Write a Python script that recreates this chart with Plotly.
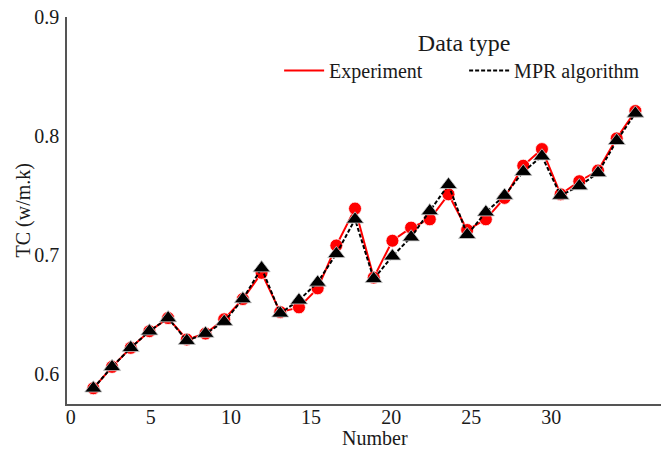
import plotly.graph_objects as go

numbers = list(range(1, 31))
experiment = [0.588, 0.606, 0.622, 0.636, 0.647, 0.629, 0.634, 0.646, 0.663, 0.685,
              0.652, 0.656, 0.672, 0.708, 0.739, 0.681, 0.712, 0.723, 0.730, 0.751,
              0.721, 0.730, 0.748, 0.775, 0.789, 0.751, 0.762, 0.771, 0.798, 0.821]
mpr = [0.588, 0.606, 0.622, 0.636, 0.647, 0.628, 0.634, 0.644, 0.663, 0.689,
       0.651, 0.662, 0.677, 0.701, 0.730, 0.680, 0.699, 0.715, 0.737, 0.759,
       0.717, 0.736, 0.750, 0.770, 0.783, 0.750, 0.758, 0.769, 0.796, 0.819]
x_tick_labels = [0, 5, 10, 15, 20, 25, 30]
y_ticks = [0.6, 0.7, 0.8, 0.9]

# tick labels in the original are placed on a slightly different scale than the points
x_tickvals = [-0.21 + v * 30 / 35 for v in x_tick_labels]
x_range = [-0.41, 31.37]

FONT = "Liberation Serif, Times New Roman, serif"

fig = go.Figure()
fig.add_trace(go.Scatter(x=numbers, y=experiment, mode="lines", name="Experiment",
                         line=dict(color="#ff0000", width=2)))
fig.add_trace(go.Scatter(x=numbers, y=experiment, mode="markers", showlegend=False,
                         marker=dict(symbol="circle", size=13, color="#ff0000",
                                     line=dict(color="white", width=0.8))))
fig.add_trace(go.Scatter(x=numbers, y=mpr, mode="lines", name="MPR algorithm",
                         line=dict(color="black", width=2, dash="4px,2px")))
fig.add_trace(go.Scatter(x=numbers, y=mpr, mode="markers", showlegend=False,
                         marker=dict(symbol="triangle-up", size=15, color="black",
                                     line=dict(color="#cccccc", width=0.8))))
# empty helper trace so the label-only x axis is drawn
fig.add_trace(go.Scatter(x=[None], y=[None], xaxis="x2", yaxis="y", mode="lines",
                         showlegend=False, hoverinfo="skip"))

fig.update_layout(
    width=661, height=450,
    margin=dict(l=67, r=0, t=17, b=46),
    paper_bgcolor="white", plot_bgcolor="white",
    font=dict(family=FONT, size=20, color="#1a1a1a"),
    xaxis=dict(range=x_range, showticklabels=False,
               showgrid=False, zeroline=False, showline=True,
               linecolor="#555555", linewidth=1.5, ticks=""),
    xaxis2=dict(range=x_range, overlaying="x", anchor="free", position=0.003,
                side="bottom", tickvals=x_tickvals,
                ticktext=[str(v) for v in x_tick_labels],
                showgrid=False, zeroline=False, showline=False, ticks=""),
    yaxis=dict(range=[0.5748, 0.9], tickvals=y_ticks,
               ticktext=[f"{v:.1f}" for v in y_ticks],
               showgrid=False, zeroline=False, showline=True,
               linecolor="#555555", linewidth=1.5,
               ticks="outside", ticklen=2, tickcolor="rgba(0,0,0,0)"),
    legend=dict(orientation="h", x=0.98, xanchor="right", y=0.993, yanchor="top",
                title=dict(text="Data type", side="top center"),
                bgcolor="rgba(0,0,0,0)", itemwidth=40, entrywidth=130,
                font=dict(family=FONT, size=20)),
    showlegend=True,
    annotations=[
        dict(text="Number", xref="paper", yref="paper", x=0.518, y=-0.088,
             xanchor="center", yanchor="middle", showarrow=False,
             font=dict(family=FONT, size=20, color="#1a1a1a")),
        dict(text="TC (w/m.k)", xref="paper", yref="paper", x=-0.0724, y=0.5,
             xanchor="center", yanchor="middle", textangle=-90, showarrow=False,
             font=dict(family=FONT, size=20, color="#1a1a1a")),
    ],
)

fig.write_html("out.html")
